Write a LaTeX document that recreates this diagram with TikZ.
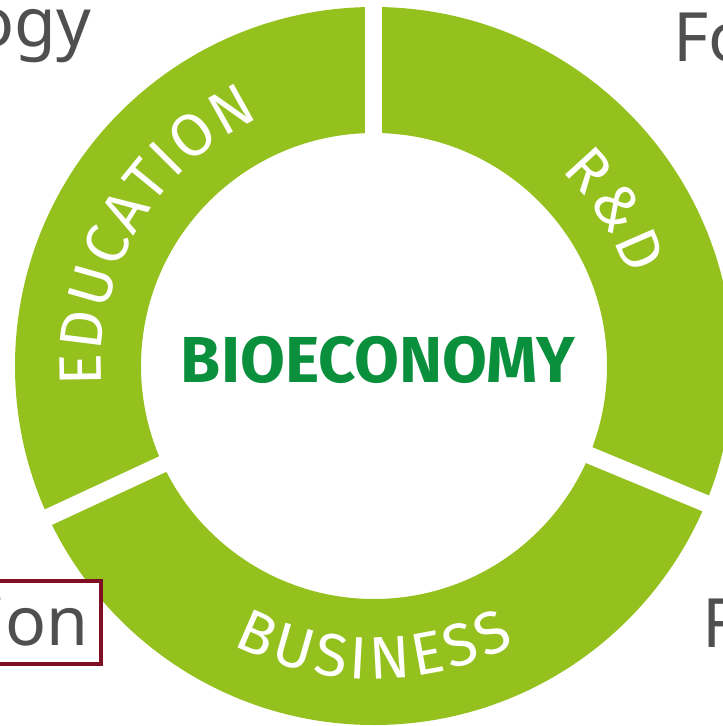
\documentclass[tikz,border=0pt]{standalone}
\usepackage{fontspec}
\usetikzlibrary{decorations.text}
\newfontfamily\firafont{Fira Sans}
\newfontfamily\notofont{Noto Sans}
\newcommand\ringfmt{\firafont\fontsize{60}{70}\selectfont}
\newcommand\grayfmt{\notofont\fontsize{68}{80}\selectfont}
\newcommand\ka{\kern2.6pt}
\newcommand\kb{\kern4pt}
\newcommand\kc{\kern4pt}
\definecolor{ringgreen}{HTML}{95C11F}
\definecolor{biogreen}{HTML}{0A8F3C}
\definecolor{txtgray}{HTML}{4F4F4F}
\definecolor{boxred}{HTML}{7F1024}
\tikzset{
  gap/.style={white, line width=17},
  graytext/.style={inner sep=0pt, text=txtgray, font=\grayfmt},
  ringlabel/.style={decorate, decoration={text along path, text align=center, text color=white}}
}
\begin{document}
\begin{tikzpicture}[x=1pt,y=1pt]
\useasboundingbox (-374,-360) rectangle (349,366);
\clip (-374,-360) rectangle (349,366);
% ring
\fill[ringgreen, even odd rule] (0,0) circle (359) (0,0) circle (233);
\coordinate (c) at (0,0);
\draw[gap] (c) -- (90:390);
\draw[gap] (c) -- (204.9:390);
\draw[gap] (c) -- (-22.5:390);
% ring labels
\path[ringlabel, decoration={text={|\ringfmt|E{\ka}D{\ka}U{\ka}C{\ka}A{\ka}T{\ka}I{\ka}O{\ka}N}}] (202:273) arc[start angle=202, end angle=97, radius=273];
\path[ringlabel, decoration={text={|\ringfmt|R{\kc}{\&}{\kc}D}}] (85:270) arc[start angle=85, end angle=-19.4, radius=270];
\path[ringlabel, decoration={text={|\ringfmt|B{\kb}U{\kb}S{\kb}I{\kb}N{\kb}E{\kb}S{\kb}S}}] (215:313) arc[start angle=215, end angle=325, radius=313];
% centre
\node[inner sep=0pt, anchor=base, text=biogreen, font=\firafont\bfseries\fontsize{65}{70}\selectfont] (bio) at (4,-16) {BIOECONOMY};
% outside texts
\node[graytext, anchor=base east] (ogy) at (-283,319) {ogy};
\node[graytext, anchor=base west] (fo) at (299,304) {Fo};
\node[graytext, anchor=base west] (f) at (328,-281) {F};
\node[draw=boxred, line width=4, fill=white, minimum width=200, minimum height=83, inner sep=0pt] (box) at (-373,-256.5) {};
\node[graytext, anchor=base east] (ion) at (-285,-279) {ion};
\end{tikzpicture}
\end{document}
